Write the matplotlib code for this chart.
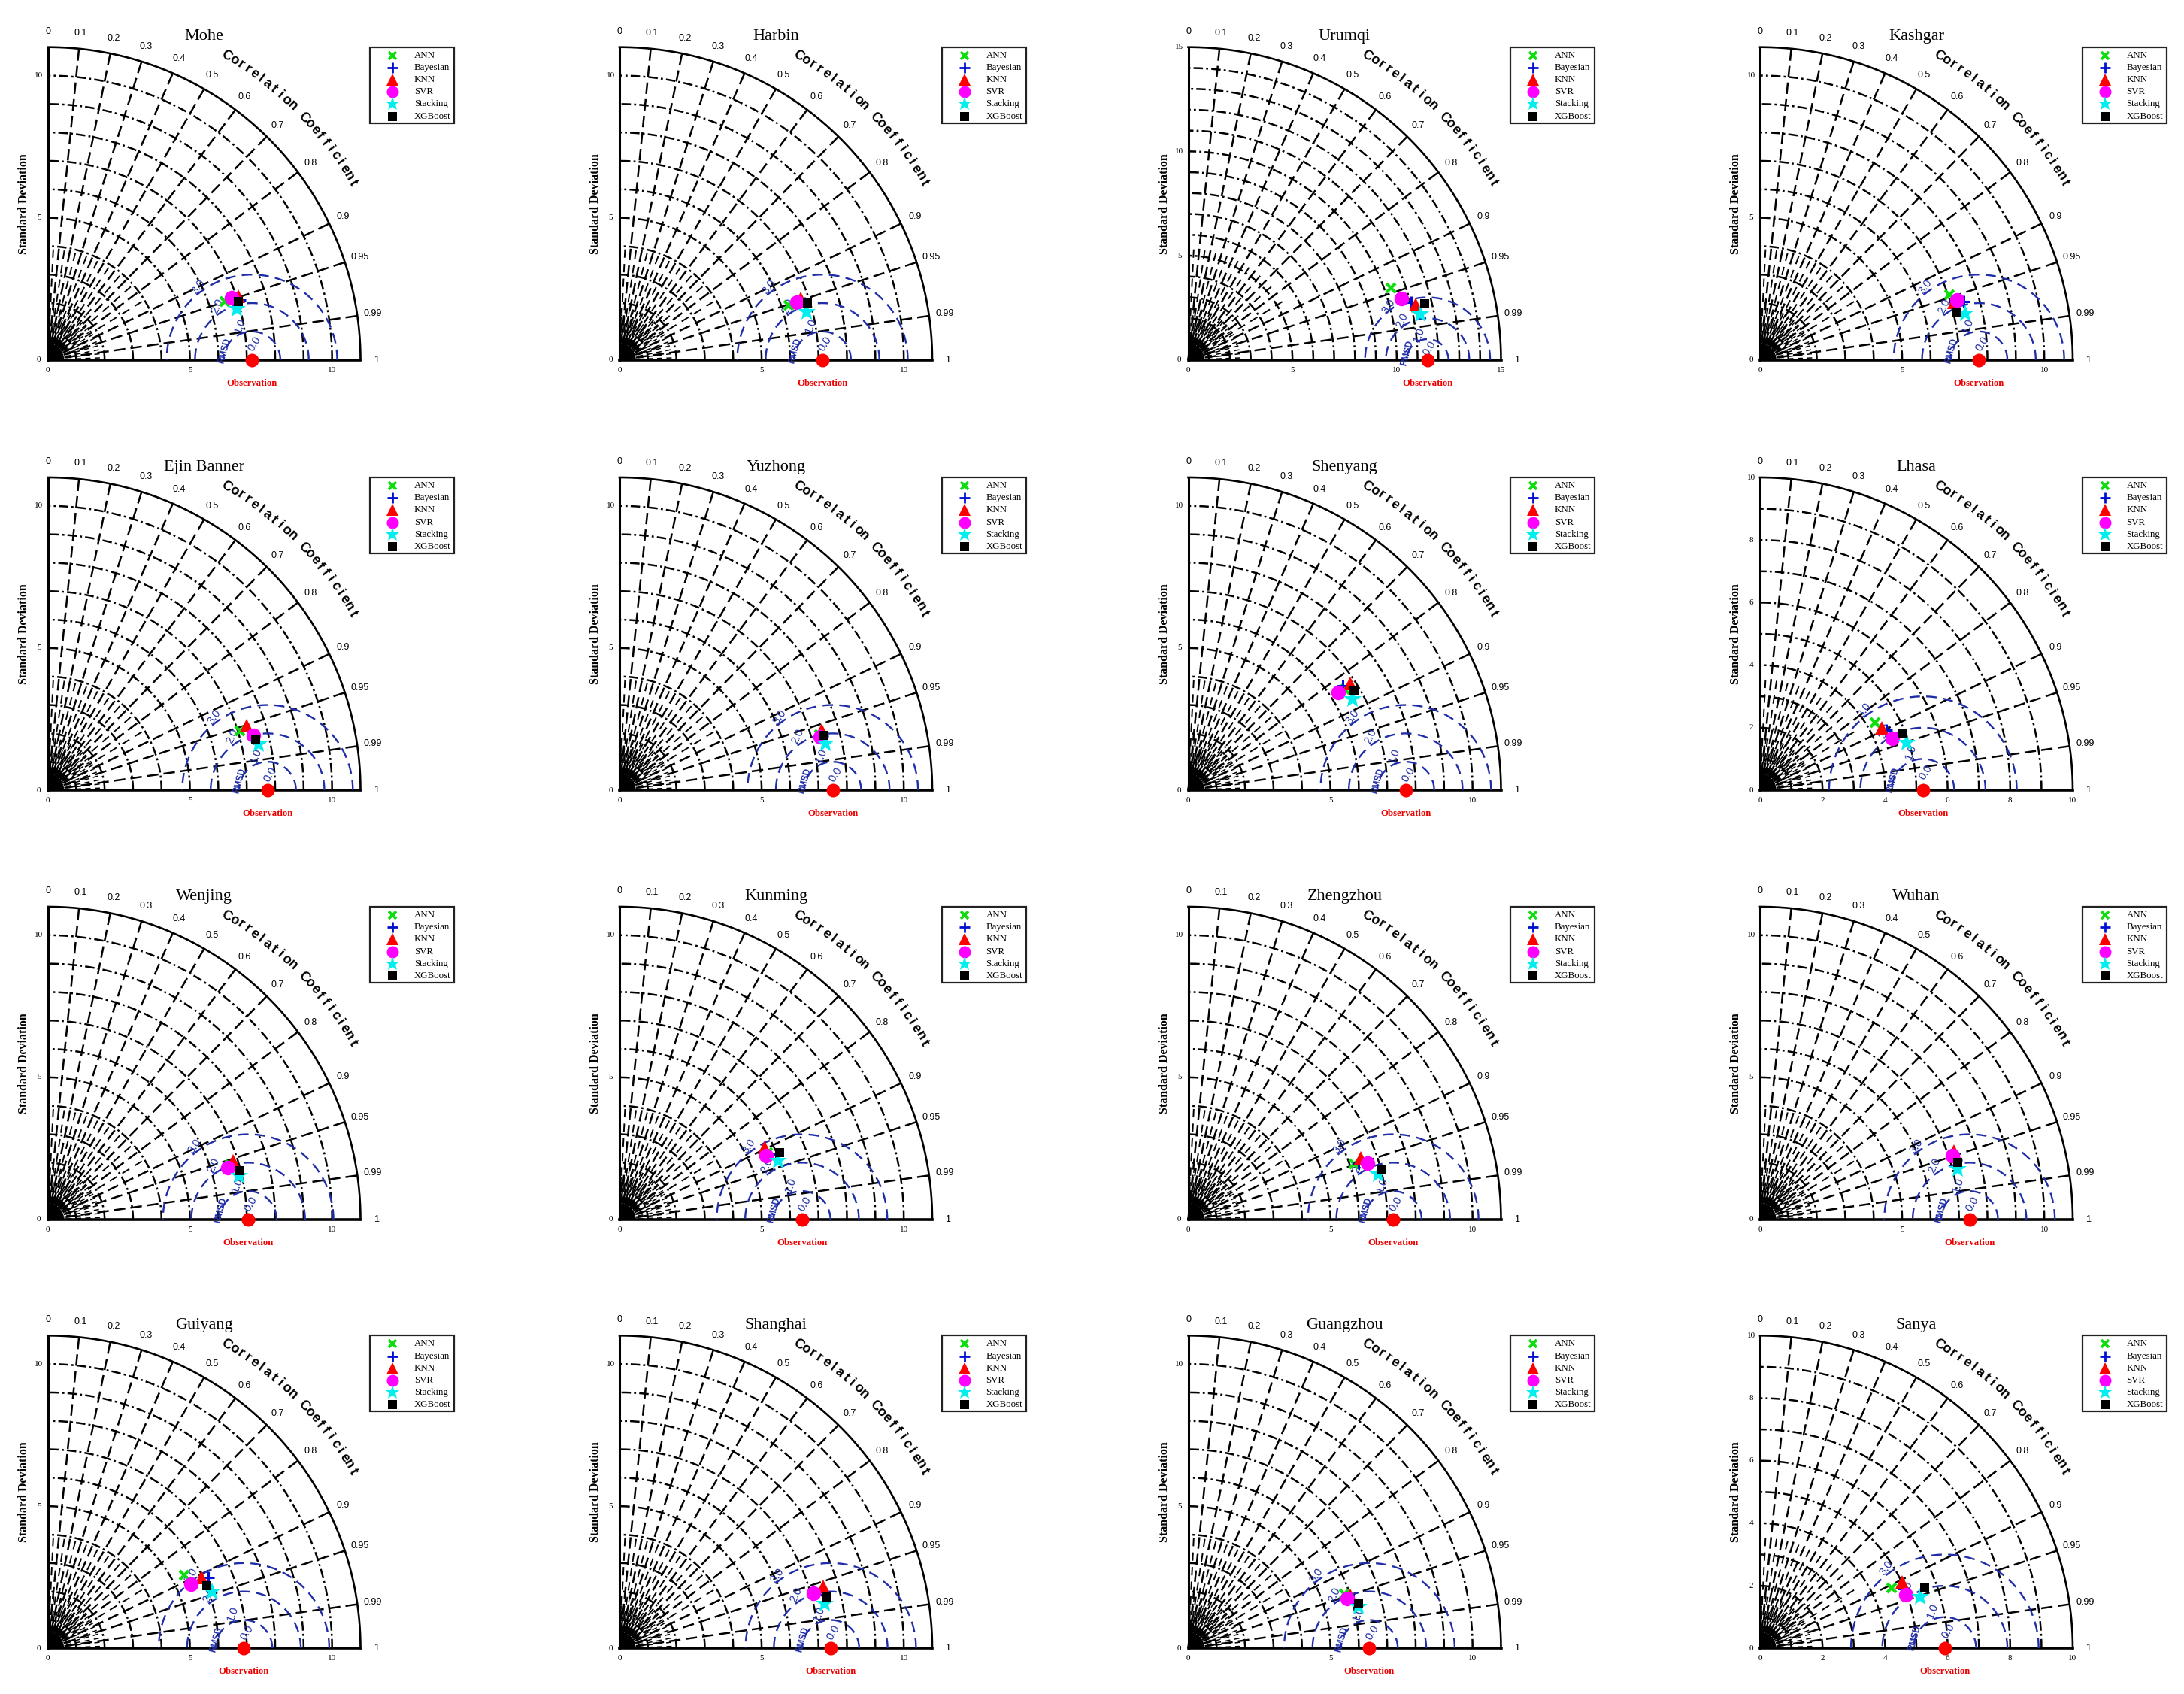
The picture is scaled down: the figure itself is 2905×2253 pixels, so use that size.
import numpy as np
import matplotlib
matplotlib.use('Agg')
import matplotlib.pyplot as plt
from matplotlib.patches import Rectangle

plt.rcParams['lines.scale_dashes'] = False

# ---------------- data ----------------
stations = ['Mohe', 'Harbin', 'Urumqi', 'Kashgar',
            'Ejin Banner', 'Yuzhong', 'Shenyang', 'Lhasa',
            'Wenjing', 'Kunming', 'Zhengzhou', 'Wuhan',
            'Guiyang', 'Shanghai', 'Guangzhou', 'Sanya']
models = ['ANN', 'Bayesian', 'KNN', 'SVR', 'Stacking', 'XGBoost']

obs_std = [7.18, 7.14, 11.48, 7.70, 7.73, 7.50, 7.65, 5.21,
           7.05, 6.42, 7.21, 7.37, 6.90, 7.43, 6.37, 5.91]

std_ANN = [6.55, 6.25, 10.31, 7.04, 7.08, 7.31, 6.55, 4.26,
           6.69, 5.71, 6.14, 7.15, 5.45, 7.28, 5.82, 4.62]
corr_ANN = [0.950, 0.952, 0.942, 0.946, 0.955, 0.964, 0.840, 0.861,
            0.957, 0.911, 0.948, 0.951, 0.881, 0.962, 0.945, 0.909]

std_Bayesian = [7.07, 6.80, 11.06, 7.46, 7.46, 7.40, 6.55, 4.48,
                6.85, 5.96, 6.32, 7.21, 6.18, 7.45, 6.04, 4.98]
corr_Bayesian = [0.955, 0.956, 0.968, 0.961, 0.970, 0.966, 0.829, 0.904,
                 0.963, 0.923, 0.949, 0.957, 0.915, 0.967, 0.960, 0.924]

std_KNN = [7.07, 6.74, 11.24, 7.11, 7.36, 7.42, 6.83, 4.38,
           6.83, 5.69, 6.43, 7.24, 5.96, 7.48, 5.99, 5.01]
corr_KNN = [0.948, 0.947, 0.972, 0.959, 0.951, 0.958, 0.835, 0.890,
            0.953, 0.896, 0.942, 0.943, 0.908, 0.957, 0.951, 0.906]

std_SVR = [6.83, 6.56, 10.65, 7.23, 7.49, 7.31, 6.28, 4.54,
           6.60, 5.62, 6.61, 7.12, 5.53, 7.08, 5.87, 4.97]
corr_SVR = [0.948, 0.951, 0.961, 0.957, 0.966, 0.966, 0.838, 0.931,
            0.961, 0.916, 0.954, 0.949, 0.913, 0.962, 0.954, 0.938]

std_Stacking = [6.88, 6.79, 11.34, 7.40, 7.58, 7.42, 6.61, 4.92,
                6.90, 5.96, 6.85, 7.17, 6.11, 7.40, 6.17, 5.39]
corr_Stacking = [0.966, 0.969, 0.981, 0.975, 0.977, 0.975, 0.876, 0.951,
                 0.975, 0.938, 0.973, 0.969, 0.946, 0.977, 0.972, 0.952]

std_XGBoost = [7.01, 6.92, 11.65, 7.14, 7.54, 7.43, 6.80, 4.88,
               6.98, 6.11, 7.03, 7.23, 6.01, 7.52, 6.21, 5.61]
corr_XGBoost = [0.956, 0.957, 0.973, 0.972, 0.971, 0.966, 0.856, 0.930,
                0.969, 0.923, 0.968, 0.961, 0.930, 0.971, 0.966, 0.938]

r_max = [11, 11, 15, 11, 11, 11, 11, 10, 11, 11, 11, 11, 11, 11, 11, 10]
r_ticks = [[0, 5, 10], [0, 5, 10], [0, 5, 10, 15], [0, 5, 10],
           [0, 5, 10], [0, 5, 10], [0, 5, 10], [0, 2, 4, 6, 8, 10],
           [0, 5, 10], [0, 5, 10], [0, 5, 10], [0, 5, 10],
           [0, 5, 10], [0, 5, 10], [0, 5, 10], [0, 2, 4, 6, 8, 10]]
corr_ticks = [0, 0.1, 0.2, 0.3, 0.4, 0.5, 0.6, 0.7, 0.8, 0.9, 0.95, 0.99, 1]
corr_tick_labels = ['0', '0.1', '0.2', '0.3', '0.4', '0.5', '0.6', '0.7',
                    '0.8', '0.9', '0.95', '0.99', '1']
rmsd_levels = [1, 2, 3]
rmsd_labels = ['0.0', '1.0', '2.0', '3.0']

model_std = {'ANN': std_ANN, 'Bayesian': std_Bayesian, 'KNN': std_KNN,
             'SVR': std_SVR, 'Stacking': std_Stacking, 'XGBoost': std_XGBoost}
model_corr = {'ANN': corr_ANN, 'Bayesian': corr_Bayesian, 'KNN': corr_KNN,
              'SVR': corr_SVR, 'Stacking': corr_Stacking, 'XGBoost': corr_XGBoost}

# ---------------- styles ----------------
SERIF = 'Liberation Serif'
SANS = 'Liberation Sans'
BLUE_RMSD = '#1f2ea8'
styles = {
    'ANN':      dict(marker='x', color='#10dd10', ms=8, mew=3.0),
    'Bayesian': dict(marker='+', color='#0010d0', ms=11, mew=2.2),
    'KNN':      dict(marker='^', color='#ff0000', ms=13, mew=0),
    'SVR':      dict(marker='o', color='#ff00ff', ms=14, mew=0),
    'Stacking': dict(marker='*', color='#00eeee', ms=18, mew=0),
    'XGBoost':  dict(marker='s', color='#000000', ms=8, mew=0),
}
leg_styles = {
    'ANN':      dict(ms=7, mew=2.6),
    'Bayesian': dict(ms=10, mew=2.0),
    'KNN':      dict(ms=12, mew=0),
    'SVR':      dict(ms=11.5, mew=0),
    'Stacking': dict(ms=14, mew=0),
    'XGBoost':  dict(ms=8.5, mew=0),
}

W, H, DPI = 2905, 2253, 100
R_PX = 416.0
col_x = [63.5, 824.0, 1580.5, 2341.0]
row_y = [478.7, 1051.0, 1622.0, 2192.3]

fig = plt.figure(figsize=(W / DPI, H / DPI), dpi=DPI)
fig.patch.set_facecolor('white')

th = np.linspace(0, np.pi / 2, 400)

for i, name in enumerate(stations):
    row, col = divmod(i, 4)
    x0, y0 = col_x[col], row_y[row]
    rmax = r_max[i]
    u = rmax / R_PX  # data units per pixel
    ax = fig.add_axes([x0 / W, 1 - y0 / H, R_PX / W, R_PX / H])
    ax.set_xlim(0, rmax)
    ax.set_ylim(0, rmax)
    ax.axis('off')

    # std-dev arcs
    for r in range(1, rmax):
        ax.plot(r * np.cos(th), r * np.sin(th), color='k', lw=1.8,
                ls=(0, (9, 3, 2, 3)), zorder=2, clip_on=False)
    ax.plot(rmax * np.cos(th), rmax * np.sin(th), color='k', lw=1.9,
            zorder=3, clip_on=False)
    ax.plot([0, rmax], [0, 0], color='k', lw=2.6, zorder=3, clip_on=False)
    ax.plot([0, 0], [0, rmax], color='k', lw=2.2, zorder=3, clip_on=False)

    # correlation radial lines
    for c in corr_ticks[1:-1]:
        a = np.arccos(c)
        ax.plot([0, rmax * np.cos(a)], [0, rmax * np.sin(a)], color='k',
                lw=1.8, ls=(0, (11, 5)), zorder=2, clip_on=False)
    for c in np.arange(0.05, 0.9, 0.1):
        a = np.arccos(c)
        ax.plot([0, 0.36 * rmax * np.cos(a)], [0, 0.36 * rmax * np.sin(a)],
                color='k', lw=1.4, ls=(0, (8, 6)), zorder=2)
    for a in np.deg2rad(np.arange(2.25, 90, 4.5)):
        ax.plot([0, 0.18 * rmax * np.cos(a)], [0, 0.18 * rmax * np.sin(a)],
                color='k', lw=1.1, ls=(0, (5, 4)), zorder=2)
    for a in np.deg2rad(np.arange(1.0, 90, 2.0)):
        ax.plot([0, 0.05 * rmax * np.cos(a)], [0, 0.05 * rmax * np.sin(a)],
                color='k', lw=1.1, zorder=2)

    # correlation tick labels
    for c, lab in zip(corr_ticks, corr_tick_labels):
        a = np.arccos(c)
        rr = 1.05 * rmax
        ax.text(rr * np.cos(a), rr * np.sin(a), lab, fontsize=9,
                family=SANS, ha='center', va='center')

    # "Correlation Coefficient" along the arc
    label = 'Correlation Coefficient'
    angs = np.linspace(59.5, 30.1, len(label))
    rc = 1.127 * rmax
    for ch, ang in zip(label, angs):
        if ch == ' ':
            continue
        ar = np.deg2rad(ang)
        ax.text(rc * np.cos(ar), rc * np.sin(ar), ch, fontsize=13,
                family=SANS, fontweight='bold', rotation=ang - 90,
                ha='center', va='center', rotation_mode='anchor')

    # radial tick labels
    for t in r_ticks[i]:
        ax.text(t, -13.7 * u, str(t), fontsize=8, family=SERIF,
                ha='center', va='center')
        ax.text(-11.8 * u, t, str(t), fontsize=8, family=SERIF,
                ha='center', va='center')

    ax.text(-31.6 * u, rmax / 2, 'Standard Deviation', rotation=90,
            fontsize=11.5, family=SERIF, fontweight='bold',
            ha='center', va='center')
    ax.text(0.5 * rmax, 1.033 * rmax, name, fontsize=16, family=SERIF,
            ha='center', va='center')

    # RMSD circles
    obs = obs_std[i]
    phi = np.linspace(0, np.pi, 400)
    for rr in rmsd_levels:
        xs = obs + rr * np.cos(phi)
        ys = rr * np.sin(phi)
        m = xs ** 2 + ys ** 2 <= rmax ** 2
        ax.plot(np.where(m, xs, np.nan), np.where(m, ys, np.nan),
                color=BLUE_RMSD, lw=1.7, ls=(0, (10, 6)), zorder=4)
    lab_r = [0.57, 1.28, 2.26, 3.18]
    lab_t = [80, 108, 123, 126]
    lab_rot = [58, 70, 65, 55]
    for lab, rr, tt, rot in zip(rmsd_labels, lab_r, lab_t, lab_rot):
        tr = np.deg2rad(tt)
        ax.text(obs + rr * np.cos(tr), rr * np.sin(tr), lab, fontsize=10.5,
                family=SANS, color=BLUE_RMSD, rotation=rot,
                ha='center', va='center', zorder=5)
    ax.text(obs - 0.97, 0.32, 'RMSD', fontsize=8.5, family=SANS,
            fontweight='bold', color=BLUE_RMSD, rotation=75,
            ha='center', va='center', zorder=5)

    # observation
    ax.plot([obs], [0], marker='o', color='#ff0000', ms=13, mew=0,
            ls='none', zorder=8, clip_on=False)
    ax.text(obs, -31 * u, 'Observation', fontsize=9.2, family=SERIF,
            fontweight='bold', color='#ee0000', ha='center', va='center')

    # models
    for k, mdl in enumerate(models):
        s = model_std[mdl][i]
        c = model_corr[mdl][i]
        a = np.arccos(c)
        st = styles[mdl]
        ax.plot([s * np.cos(a)], [s * np.sin(a)], ls='none',
                marker=st['marker'], color=st['color'], ms=st['ms'],
                mew=st['mew'], zorder=10 + k, clip_on=False)

    # legend box
    lx, ltop = 1.031, 1.0
    lw_, lh_ = 112 / R_PX, 101 / R_PX
    ax.add_patch(Rectangle((lx, ltop - lh_), lw_, lh_, transform=ax.transAxes,
                           fill=False, lw=1.6, edgecolor='#222222',
                           clip_on=False))
    for k, mdl in enumerate(models):
        yy = ltop - (11 + 16.2 * k) / R_PX
        st = styles[mdl]
        ls_ = leg_styles[mdl]
        ax.plot([lx + 30 / R_PX], [yy], transform=ax.transAxes, ls='none',
                marker=st['marker'], color=st['color'], ms=ls_['ms'],
                mew=ls_['mew'], clip_on=False, zorder=20)
        ax.text(lx + 58.6 / R_PX, yy, mdl, transform=ax.transAxes,
                fontsize=9.3, family=SERIF, ha='left', va='center')

fig.savefig('out.png', dpi=DPI, facecolor='white')
